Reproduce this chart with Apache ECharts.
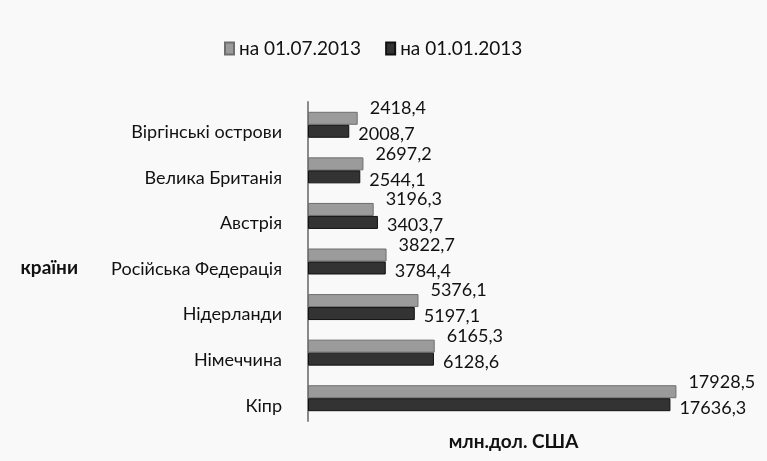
<!DOCTYPE html>
<html>
<head>
<meta charset="utf-8">
<script src="https://cdn.jsdelivr.net/npm/echarts@6/dist/echarts.min.js"></script>
<style>
  html, body { margin: 0; padding: 0; background: #f9f9f9; }
  #chart { width: 767px; height: 461px; }
</style>
</head>
<body>
<div id="chart"></div>
<script>
// країни, знизу вгору
var categories = ['Кіпр', 'Німеччина', 'Нідерланди', 'Російська Федерація', 'Австрія', 'Велика Британія', 'Віргінські острови'];
var seriesNames = ['на 01.07.2013', 'на 01.01.2013'];
var jul2013 = [17928.5, 6165.3, 5376.1, 3822.7, 3196.3, 2697.2, 2418.4];
var jan2013 = [17636.3, 6128.6, 5197.1, 3784.4, 3403.7, 2544.1, 2008.7];

var font = 'Lato, "Open Sans", sans-serif';

function fmt(p) {
  return p.value.toFixed(1).replace('.', ',');
}

var myChart = echarts.init(document.getElementById('chart'));
var option = {
  backgroundColor: '#f9f9f9',
  textStyle: { fontFamily: font },
  legend: {
    top: 34,
    left: 219,
    itemWidth: 9,
    itemHeight: 12,
    itemGap: 24,
    icon: 'rect',
    textStyle: { fontSize: 19, color: '#111', fontFamily: font },
    data: seriesNames
  },
  grid: { left: 308, right: 48, top: 102, bottom: 40 },
  xAxis: {
    type: 'value',
    min: 0,
    max: 20000,
    axisLabel: { show: false },
    axisTick: { show: false },
    axisLine: { show: false },
    splitLine: { show: false },
    name: 'млн.дол. США',
    nameLocation: 'middle',
    nameGap: 11,
    nameTextStyle: { fontSize: 19, fontWeight: 'bold', color: '#111', fontFamily: font }
  },
  yAxis: {
    type: 'category',
    data: categories,
    axisTick: { show: false },
    axisLine: { show: true, lineStyle: { color: '#8a8a8a', width: 2 } },
    axisLabel: {
      margin: 26,
      formatter: function (v) { return '{a|' + v + '}'; },
      rich: { a: { fontSize: 18, color: '#111', fontFamily: font, padding: [15, 0, 0, 0] } }
    },
    name: '{a|країни}',
    nameLocation: 'middle',
    nameRotate: 0,
    nameGap: 230,
    nameTextStyle: {
      rich: { a: { fontSize: 19, fontWeight: 'bold', color: '#111', fontFamily: font, padding: [12, 0, 0, 0] } }
    }
  },
  series: [
    {
      name: seriesNames[0],
      type: 'bar',
      data: jul2013,
      barGap: '0%',
      barCategoryGap: '43%',
      itemStyle: { color: '#9b9b9b', borderColor: '#6e6e6e', borderWidth: 1 },
      label: {
        show: true, position: 'right', offset: [7, -10],
        fontSize: 18, color: '#111', fontFamily: font, formatter: fmt
      }
    },
    {
      name: seriesNames[1],
      type: 'bar',
      data: jan2013,
      itemStyle: { color: '#333333', borderColor: '#111', borderWidth: 1 },
      label: {
        show: true, position: 'right', offset: [4, 3],
        fontSize: 18, color: '#111', fontFamily: font, formatter: fmt
      }
    }
  ]
};
myChart.setOption(option);
</script>
</body>
</html>
